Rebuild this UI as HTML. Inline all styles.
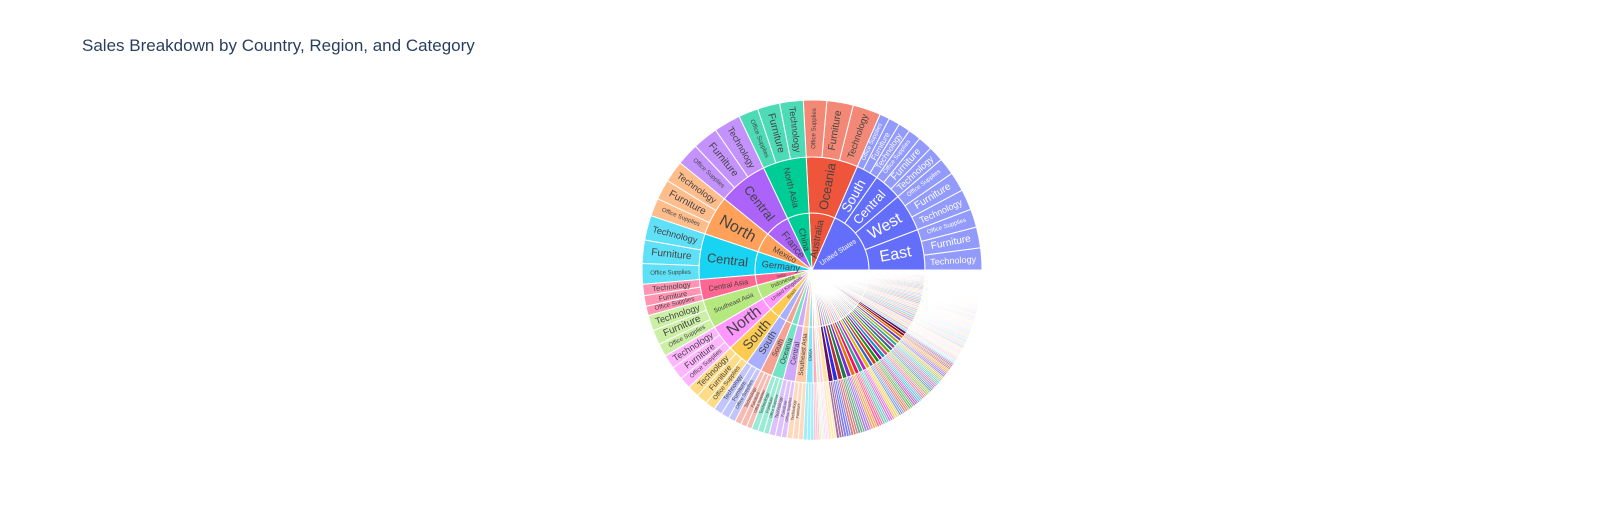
<!DOCTYPE html>
<html><head><meta charset="utf-8"><title>Sales Breakdown</title>
<style>
html,body{margin:0;padding:0;background:#fff;}
svg{display:block;font-family:"Liberation Sans",Arial,sans-serif;}
</style></head>
<body>
<svg id="chart" width="1624" height="525" viewBox="0 0 1624 525">
<rect width="1624" height="525" fill="#fff"/>
<text x="82" y="51" font-size="17" fill="#2a3f5f">Sales Breakdown by Country, Region, and Category</text>
<g id="rings"></g>
<g id="labels"></g>
</svg>
<script>
const regionCountry = ["United States","United States","United States","United States","Australia","China","France","Mexico","Germany","India","Indonesia","United Kingdom","Brazil","Italy","Spain","New Zealand","Netherlands","Philippines","Turkey","Austria","South Korea","Cuba",
"Colombia","Argentina","Nigeria","Egypt","Japan","Thailand","Vietnam","Pakistan","Iran","Belgium","Sweden","Poland","Ukraine","Russia","Morocco","Algeria","Chile","Peru","Venezuela","Guatemala","Dominican Republic","Bangladesh","Saudi Arabia","Iraq",
"Malaysia","Canada","South Africa","Honduras","Nicaragua","El Salvador","Portugal","Denmark","Norway","Switzerland","Ireland","Finland","Afghanistan","Myanmar","Cambodia","Nepal","Sri Lanka","Kenya","Ghana","Ethiopia","Cameroon","Angola","Senegal","Tanzania","Zambia","Uganda","Syria","Israel","Jordan","Qatar","Kazakhstan","Uzbekistan","Mongolia","Taiwan","Hong Kong","Singapore","Ecuador","Bolivia","Paraguay","Uruguay","Jamaica","Haiti","Panama","Costa Rica","Greece","Romania","Hungary","Czech Republic","Belarus","Lithuania"];
const regionName = ["East","West","Central","South","Oceania","North Asia","Central","North","Central","Central Asia","Southeast Asia","North","South","South","South","Oceania","Central","Southeast Asia","EMEA","Central","North Asia","Caribbean",
"South","South","Africa","Africa","North Asia","Southeast Asia","Southeast Asia","Central Asia","Central Asia","Central","North","EMEA","EMEA","EMEA","Africa","Africa","South","South","North","Central","Caribbean","Central Asia","EMEA","EMEA",
"Southeast Asia","Canada","Africa","Central","Central","Central","South","North","North","Central","North","North","Central Asia","Southeast Asia","Southeast Asia","Central Asia","Central Asia","Africa","Africa","Africa","Africa","Africa","Africa","Africa","Africa","Africa","EMEA","EMEA","EMEA","EMEA","EMEA","EMEA","North Asia","North Asia","North Asia","Southeast Asia","South","South","South","South","Caribbean","Caribbean","Central","Central","South","EMEA","EMEA","EMEA","EMEA","EMEA"];
const regionSales = [20.5,19.2,14.2,11.1,26,22,25,20,23,10.5,14.5,13,11,8,6,6,6,5.5,3.5,2,1.5,1.5,
2.6,2.5,2.4,2.4,2.3,2.2,2.2,2.1,2.1,2.0,2.0,1.9,1.9,1.9,1.8,1.8,1.8,1.7,1.7,1.7,1.6,1.6,1.6,1.5,
1.3,1.3,1.2,1.2,1.2,1.1,1.1,1.1,1.0,1.0,1.0,1.0,0.9,0.9,0.9,0.9,0.9,0.8,0.8,0.8,0.8,0.8,0.7,0.7,0.7,0.7,0.7,0.6,0.6,0.6,0.6,0.6,0.5,0.5,0.5,0.5,0.5,0.4,0.4,0.4,0.4,0.4,0.3,0.3,0.3,0.3,0.3,0.3,0.2,0.2];
const categories = ["Technology","Furniture","Office Supplies"];
const categoryShare = [0.36,0.34,0.30];

const palette = ["#636efa","#EF553B","#00cc96","#ab63fa","#FFA15A","#19d3f3","#FF6692","#B6E880","#FF97FF","#FECB52"];
const vivid = ["#2b2bf0","#b82e2e","#1a7a4a","#7a2bd6","#e67300","#ff0d57","#22aa99","#c81ec8","#e6b800","#3366cc","#dc3912","#109618","#990099","#0099c6","#dd4477","#66aa00","#316395","#994499","#22aa99","#aaaa11","#6633cc","#e67300","#8b0707","#651067"];
const CX = 812, CY = 270, R1 = 57, R2 = 113, R3 = 170;

function hexRgb(hex){const n=parseInt(hex.slice(1),16);return [(n>>16)&255,(n>>8)&255,n&255];}
function css(rgb,t){return "rgb("+rgb.map(v=>Math.round(v+(255-v)*t)).join(",")+")";}
function pt(r,a){const t=a*Math.PI/180;return [CX+r*Math.cos(t),CY-r*Math.sin(t)];}
function arcPath(r0,r1,a0,a1){
  const large=(a1-a0)>180?1:0;
  const p1=pt(r1,a0),p2=pt(r1,a1);
  if(r0<=0){return "M"+CX+","+CY+"L"+p1[0]+","+p1[1]+"A"+r1+","+r1+" 0 "+large+" 0 "+p2[0]+","+p2[1]+"Z";}
  const p3=pt(r0,a1),p4=pt(r0,a0);
  return "M"+p1[0]+","+p1[1]+"A"+r1+","+r1+" 0 "+large+" 0 "+p2[0]+","+p2[1]+"L"+p3[0]+","+p3[1]+"A"+r0+","+r0+" 0 "+large+" 1 "+p4[0]+","+p4[1]+"Z";
}
const NS="http://www.w3.org/2000/svg";
const gR=document.getElementById("rings"), gL=document.getElementById("labels");
const total = regionSales.reduce((a,b)=>a+b,0);
const angScale = v => v/total*360;

const countries=[]; const countrySales=[];
regionCountry.forEach((c,i)=>{let k=countries.indexOf(c);if(k<0){countries.push(c);countrySales.push(0);k=countries.length-1;}countrySales[k]+=regionSales[i];});
// returns [rgb, innerT, regionT, categoryT]
function colorSpec(k){
  if(k<10) return [hexRgb(palette[k]),0,0,0.3];
  if(k<20) return [hexRgb(palette[k-10]),0.45,0.45,0.6];
  if(k<21+vivid.length) return [hexRgb(vivid[(k-21+vivid.length)%vivid.length]),0.55,0,0.4];
  return [hexRgb(palette[k%10]),0.6,0.55,0.65];
}
function drawWedge(r0,r1,a0,a1,fill,name){
  const p=document.createElementNS(NS,"path");
  p.setAttribute("d",arcPath(r0,r1,a0,a1));
  p.setAttribute("fill",fill);
  p.setAttribute("stroke","#fff");
  p.setAttribute("stroke-width",(a1-a0)<1.5?"0.6":"1");
  
  
  gR.appendChild(p);
}
function drawLabel(r0,r1,a0,a1,txt,color,maxFs,name){
  const mid=(a0+a1)/2, rm=(r0+r1)/2;
  const span=(r1-r0)-6;
  const arcW=(a1-a0)*Math.PI/180*rm;
  let fs=Math.min(maxFs, span/(0.56*txt.length), arcW*0.8);
  if(fs<3.5) return;
  const p=pt(r0<=0? r1*0.55 : rm, mid);
  let rot=-mid; if(mid>90&&mid<270) rot+=180;
  const t=document.createElementNS(NS,"text");
  t.setAttribute("x",p[0]);t.setAttribute("y",p[1]);
  t.setAttribute("font-size",fs.toFixed(2));
  t.setAttribute("fill",color);
  t.setAttribute("text-anchor","middle");
  t.setAttribute("dominant-baseline","central");
  t.setAttribute("transform","rotate("+rot+" "+p[0]+" "+p[1]+")");
  t.textContent=txt;
  
  
  gL.appendChild(t);
}
let a=0;
countries.forEach((c,k)=>{
  const a1=a+angScale(countrySales[k]);
  const s=colorSpec(k);
  drawWedge(0,R1,a,a1,css(s[0],s[1]),"country-"+c.toLowerCase().replace(/ /g,"-"));
  drawLabel(0,R1,a,a1,c,k===0?"#fff":"#444",10,"country-label");
  a=a1;
});
a=0;
regionSales.forEach((v,i)=>{
  const k=countries.indexOf(regionCountry[i]);
  const a1=a+angScale(v);
  const s=colorSpec(k);
  drawWedge(R1,R2,a,a1,css(s[0],s[2]),"region-"+regionName[i].toLowerCase().replace(/ /g,"-"));
  drawLabel(R1,R2,a,a1,regionName[i],k===0?"#fff":"#444",16,"region-label");
  let c0=a;
  categories.forEach((cat,j)=>{
    const c1=c0+(a1-a)*categoryShare[j];
    drawWedge(R2,R3,c0,c1,css(s[0],s[3]),"category-"+cat.toLowerCase().replace(/ /g,"-"));
    drawLabel(R2,R3,c0,c1,cat,k===0?"#fff":"#444",13,"category-label");
    c0=c1;
  });
  a=a1;
});
</script>
</body></html>
